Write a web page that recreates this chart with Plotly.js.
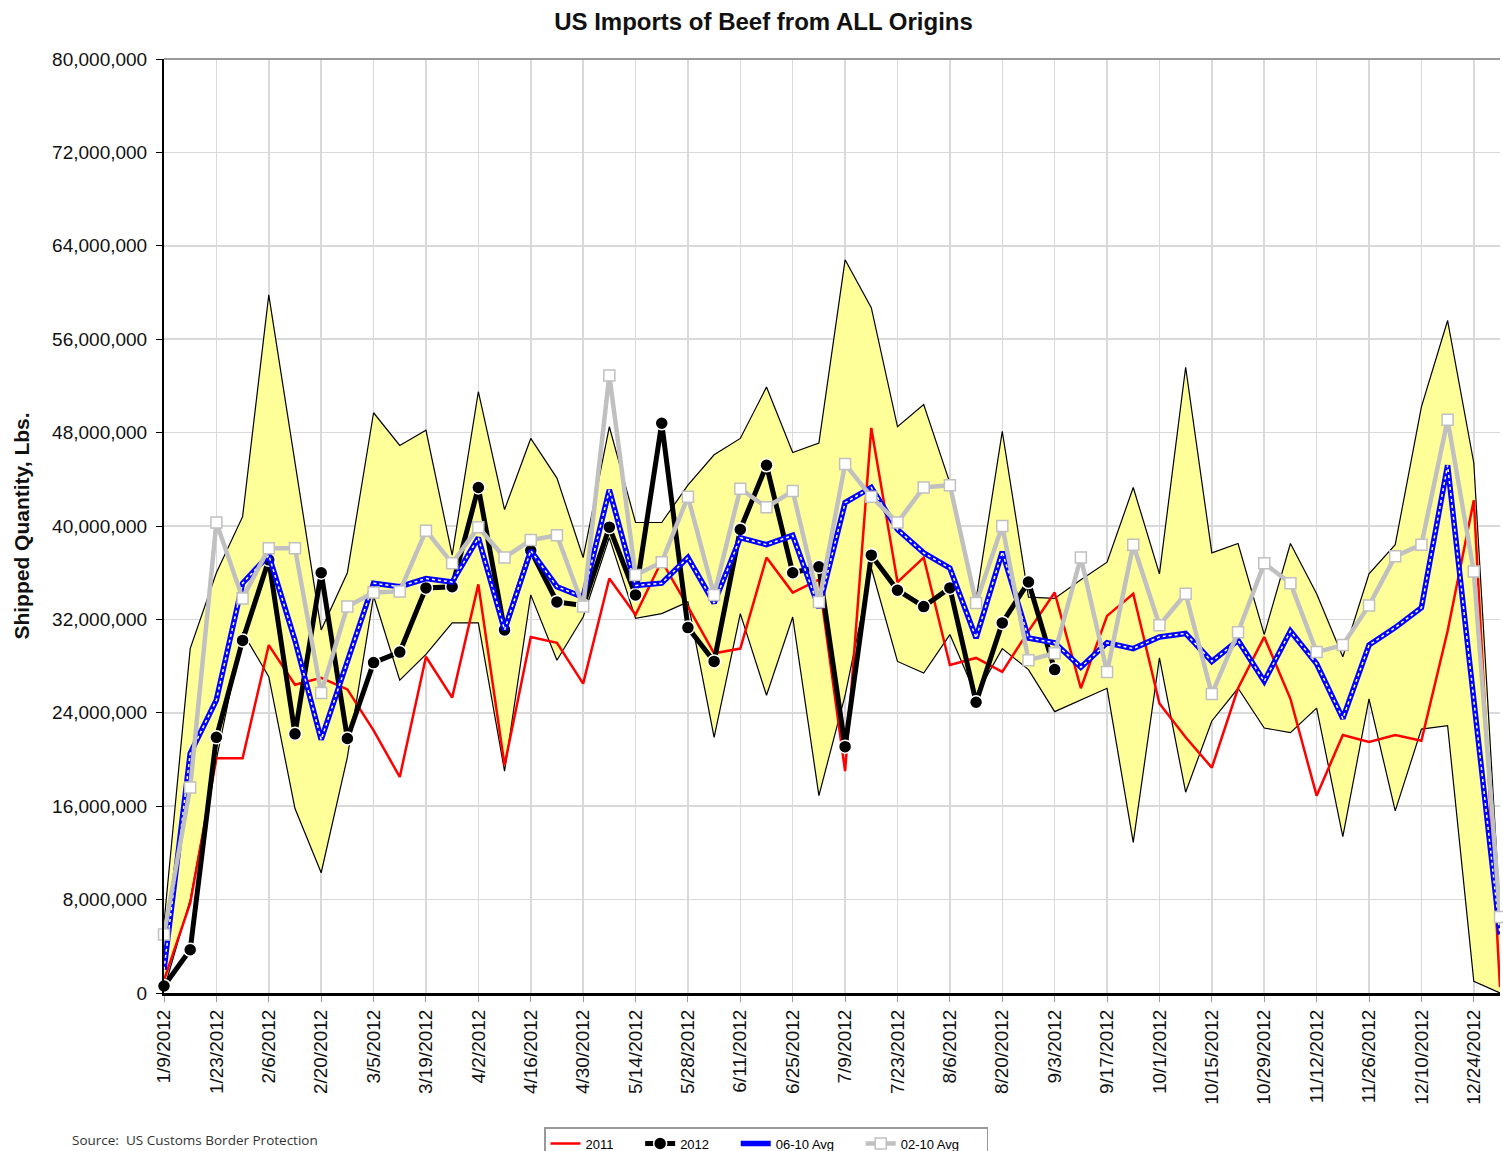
<!DOCTYPE html>
<html><head><meta charset="utf-8">
<script src="https://cdn.plot.ly/plotly-3.0.1.min.js"></script>
<style>html,body{margin:0;padding:0;background:#fff}#chart{width:1503px;height:1151px}</style>
</head><body><div id="chart"></div>
<script>
// Week-ending dates (categories)
const weeks = ["1/9/2012","1/16/2012","1/23/2012","1/30/2012","2/6/2012","2/13/2012","2/20/2012","2/27/2012",
"3/5/2012","3/12/2012","3/19/2012","3/26/2012","4/2/2012","4/9/2012","4/16/2012","4/23/2012","4/30/2012",
"5/7/2012","5/14/2012","5/21/2012","5/28/2012","6/4/2012","6/11/2012","6/18/2012","6/25/2012","7/2/2012",
"7/9/2012","7/16/2012","7/23/2012","7/30/2012","8/6/2012","8/13/2012","8/20/2012","8/27/2012","9/3/2012",
"9/10/2012","9/17/2012","9/24/2012","10/1/2012","10/8/2012","10/15/2012","10/22/2012","10/29/2012",
"11/5/2012","11/12/2012","11/19/2012","11/26/2012","12/3/2012","12/10/2012","12/17/2012","12/24/2012","12/31/2012"];

// Tick labels (every second week)
const tickLabels = ["1/9/2012","1/23/2012","2/6/2012","2/20/2012","3/5/2012","3/19/2012","4/2/2012","4/16/2012",
"4/30/2012","5/14/2012","5/28/2012","6/11/2012","6/25/2012","7/9/2012","7/23/2012","8/6/2012","8/20/2012",
"9/3/2012","9/17/2012","10/1/2012","10/15/2012","10/29/2012","11/12/2012","11/26/2012","12/10/2012","12/24/2012"];

// Series names
const seriesNames = ["2011", "2012", "06-10 Avg", "02-10 Avg"];

// Values in millions of lbs
const bandMax = [6, 29.5, 36, 40.8, 59.8, 45.4, 31.1, 36, 49.7, 46.9,
 48.2, 37.5, 51.5, 41.4, 47.5, 44.1, 37.3, 48.5, 40.3, 40.3,
 43.5, 46.1, 47.5, 51.9, 46.3, 47.1, 62.8, 58.7, 48.5, 50.4,
 43.7, 33.7, 48.1, 33.9, 33.8, 35.4, 36.9, 43.3, 35.9, 53.6,
 37.7, 38.5, 30.7, 38.5, 34.2, 28.8, 35.9, 38.4, 50.2, 57.6,
 45.4, 7];
const bandMin = [0.3, 8, 20, 30.9, 27.1, 15.8, 10.3, 20.2, 34, 26.8,
 29, 31.7, 31.7, 19, 34.1, 28.5, 32.2, 39, 32.1, 32.5,
 33.5, 21.9, 32.5, 25.5, 32.2, 16.9, 25.5, 36.4, 28.4, 27.4,
 30.7, 25.5, 29.5, 27.7, 24.1, 25.1, 26.1, 12.9, 28.7, 17.2,
 23.3, 26.1, 22.7, 22.3, 24.4, 13.4, 25.2, 15.6, 22.6, 22.9,
 1.0, 0];
const y2011 = [1.1, 7.7, 20.1, 20.1, 29.8, 26.4, 27, 26, 22.5, 18.5,
 28.8, 25.3, 35, 19.5, 30.5, 30, 26.5, 35.5, 32.4, 37,
 33.1, 29.1, 29.5, 37.3, 34.3, 35.4, 19, 48.4, 35.2, 37.3,
 28.1, 28.7, 27.5, 31, 34.3, 26.1, 32.3, 34.2, 24.8, 21.9,
 19.3, 26.1, 30.5, 25.2, 16.9, 22.1, 21.5, 22.1, 21.6, 31,
 42.2, 0.5];
const y2012 = [0.6, 3.7, 21.9, 30.2, 37.1, 22.2, 36, 21.8, 28.3, 29.2,
 34.7, 34.8, 43.3, 31.1, 37.9, 33.5, 33.2, 39.9, 34.1, 48.8,
 31.3, 28.4, 39.7, 45.2, 36, 36.5, 21.1, 37.5, 34.5, 33.1,
 34.7, 24.9, 31.7, 35.2, 27.7];
const avg0610 = [2, 20.5, 25.1, 35.1, 37.5, 30.2, 21.7, 28.5, 35.1, 34.8,
 35.5, 35.2, 39, 31.1, 37.9, 34.8, 33.9, 43.1, 34.9, 35.1,
 37.3, 33.4, 39, 38.4, 39.2, 33, 42, 43.3, 39.7, 37.7,
 36.4, 30.4, 37.8, 30.4, 30, 27.9, 30, 29.5, 30.5, 30.8,
 28.4, 30.2, 26.7, 31, 28.2, 23.5, 29.8, 31.3, 33, 45.2,
 25, 5];
const avg0210 = [5, 17.6, 40.3, 33.8, 38.1, 38.1, 25.7, 33.1, 34.3, 34.4,
 39.6, 36.8, 39.9, 37.3, 38.8, 39.2, 33.1, 52.9, 35.8, 36.9,
 42.5, 34.1, 43.2, 41.6, 43, 33.5, 45.3, 42.5, 40.3, 43.3,
 43.5, 33.4, 40, 28.5, 29.1, 37.3, 27.5, 38.4, 31.5, 34.2,
 25.6, 30.9, 36.8, 35.1, 29.2, 29.8, 33.2, 37.4, 38.4, 49.1,
 36.1, 6.5];

const M = v => v * 1e6;
const F = '"Liberation Sans", Arial, sans-serif';
const pad = s => s + '\u00a0\u00a0\u00a0\u00a0\u00a0\u00a0';

const traces = [
  {x: weeks, y: bandMax.map(M), type: 'scatter', mode: 'lines', line: {color: '#000', width: 1.2}, showlegend: false, hoverinfo: 'skip'},
  {x: weeks, y: bandMin.map(M), type: 'scatter', mode: 'lines', fill: 'tonexty', fillcolor: '#FFFF99', line: {color: '#000', width: 1.2}, showlegend: false, hoverinfo: 'skip'},
  {x: weeks, y: y2011.map(M), type: 'scatter', name: pad(seriesNames[0]), mode: 'lines', line: {color: '#FF0000', width: 2.5}},
  {x: weeks.slice(0, y2012.length), y: y2012.map(M), type: 'scatter', name: pad(seriesNames[1]), mode: 'lines+markers', cliponaxis: false,
   line: {color: '#000', width: 5}, marker: {symbol: 'circle', size: 13, color: '#000', line: {color: '#fff', width: 1.5}}},
  {x: weeks, y: avg0610.map(M), type: 'scatter', name: pad(seriesNames[2]), mode: 'lines', line: {color: '#0000FF', width: 5.5}},
  {x: weeks, y: avg0610.map(M), type: 'scatter', mode: 'lines', line: {color: '#FFFFFF', width: 1.5, dash: 'dot'}, showlegend: false, hoverinfo: 'skip'},
  {x: weeks, y: avg0210.map(M), type: 'scatter', name: pad(seriesNames[3]), mode: 'lines+markers', cliponaxis: false,
   line: {color: '#C0C0C0', width: 4.5}, marker: {symbol: 'square', size: 11, color: '#FFFFFF', line: {color: '#C0C0C0', width: 1.5}}}
];

const layout = {
  width: 1503, height: 1151,
  margin: {l: 164, r: 3, t: 59, b: 158, pad: 0},
  paper_bgcolor: '#fff', plot_bgcolor: '#fff',
  font: {family: F, color: '#000'},
  title: {text: '<b>US Imports of Beef from ALL Origins</b>', font: {size: 24, family: F, color: '#111'},
          x: 0.508, xref: 'container', y: 1 - 22/1151, yref: 'container', xanchor: 'center', yanchor: 'middle'},
  xaxis: {type: 'category', range: [0, 51], tickmode: 'array', tickvals: tickLabels, ticktext: tickLabels,
          tickangle: -90, tickfont: {size: 19, color: '#111'}, showgrid: true, gridcolor: '#D9D9D9', gridwidth: 1.5,
          showline: true, linecolor: '#000', linewidth: 3, ticks: 'outside', ticklen: 6, tickcolor: '#999',
          zeroline: false, fixedrange: true},
  yaxis: {range: [0, 80e6], tick0: 0, dtick: 8e6, tickformat: ',d', tickfont: {size: 19, color: '#111'},
          showgrid: true, gridcolor: '#D9D9D9', gridwidth: 1.5, showline: true, linecolor: '#000', linewidth: 2,
          ticks: 'outside', ticklen: 6, tickcolor: '#000', zeroline: false, fixedrange: true, ticklabelstandoff: 5,
          title: {text: '<b>Shipped Quantity, Lbs.</b>', font: {size: 21, color: '#111'}, standoff: 17}},
  legend: {orientation: 'h', traceorder: 'normal', xref: 'container', yref: 'container', x: 544/1503, y: 24/1151,
           xanchor: 'left', yanchor: 'top', bordercolor: '#999', borderwidth: 1.5, font: {size: 13}, bgcolor: '#fff'},
  shapes: [{type: 'line', xref: 'paper', yref: 'paper', x0: 0, x1: 1, y0: 1, y1: 1, line: {color: '#999', width: 2}}],
  annotations: [{text: 'Source:\u00a0 US Customs Border Protection', xref: 'paper', yref: 'paper',
                 x: (70 - 164) / 1336, y: (993 - 1140) / 934, xanchor: 'left', yanchor: 'middle', showarrow: false,
                 font: {family: '"Open Sans", sans-serif', size: 13.5, color: '#333'}}]
};

Plotly.newPlot('chart', traces, layout, {displayModeBar: false, staticPlot: true});
</script></body></html>
